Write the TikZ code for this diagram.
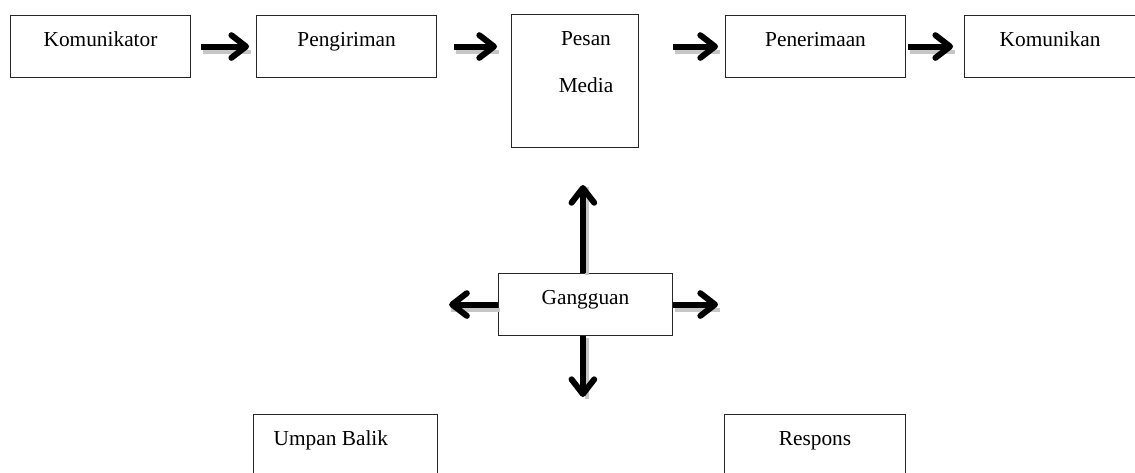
\documentclass[tikz,border=0pt]{standalone}
\usepackage{fontspec}
\setmainfont{Liberation Serif}
\usetikzlibrary{positioning}
\usetikzlibrary{arrows.meta}

\tikzset{
  kotak/.style={draw=black!85, line width=0.8pt, inner sep=0pt, anchor=north west,
    text height=23.25pt, text depth=23.25pt, minimum width=135pt,
    font=\fontsize{16}{19}\selectfont},
  tulisan/.style={inner sep=0pt, font=\fontsize{16}{19}\selectfont},
  panah/.style={-{Straight Barb[round,length=11pt,width=17pt,line width=4.5pt]}, line width=4.5pt},
  panahH/.style={panah, preaction={draw=gray!45, line width=3pt, -, transform canvas={xshift=1.5pt,yshift=-4pt}}},
  panahV/.style={panah, preaction={draw=gray!45, line width=3pt, -, transform canvas={xshift=3pt,yshift=-1.5pt}}},
}

\begin{document}
\begin{tikzpicture}[x=0.75pt,y=-0.75pt]
\useasboundingbox (0,0) rectangle (1135,473);

\node[kotak]  (kom)    at (10,15)                  {Komunikator};
\node[kotak]  (kirim)  [right=48.75pt of kom]      {Pengiriman};
\node[kotak, minimum width=95.25pt, minimum height=99.75pt] (pesan) at (511,14) {};
\node[tulisan] (pesanT) at (586,39) {Pesan};
\node[tulisan] (mediaT) at (586,85) {Media};
\node[kotak]  (terima) at (725,15)                 {Penerimaan};
\node[kotak, minimum width=128.25pt] (kan) [right=43.5pt of terima] {Komunikan};

\node[kotak, minimum width=130.5pt] (ganggu) at (498,273) {Gangguan};
\node[kotak, minimum width=138pt, text depth=36.75pt] (balik) at (253,414) {Umpan Balik\kern22pt};
\node[kotak, minimum width=135.75pt, text depth=36.75pt] (respons) at (724,414) {Respons};

% alur pesan
\draw[panahH, shorten <=7.5pt, shorten >=5.25pt] (kom) -- (kirim);
\draw[panahH, shorten <=12.75pt, shorten >=10.5pt] (kirim.east) -- (kirim.east -| pesan.west);
\draw[panahH, shorten <=25.5pt, shorten >=5.25pt] (pesan.east |- terima.west) -- (terima.west);
\draw[panahH, shorten <=1.5pt, shorten >=8.25pt] (terima) -- (kan);

% gangguan
\draw[panahV, shorten >=27.75pt] ([xshift=-2pt]ganggu.north) -- ([xshift=-2pt]ganggu.north |- pesan.south);
\draw[panahV, shorten >=12.75pt] ([xshift=-2pt]ganggu.south) -- ([xshift=-2pt]ganggu.south |- balik.north);
\draw[panahH, shorten >=9pt] (ganggu.west) -- (ganggu.west -| kirim.east);
\draw[panahH, shorten >=5.25pt] (ganggu.east) -- (ganggu.east -| terima.west);

\end{tikzpicture}
\end{document}
